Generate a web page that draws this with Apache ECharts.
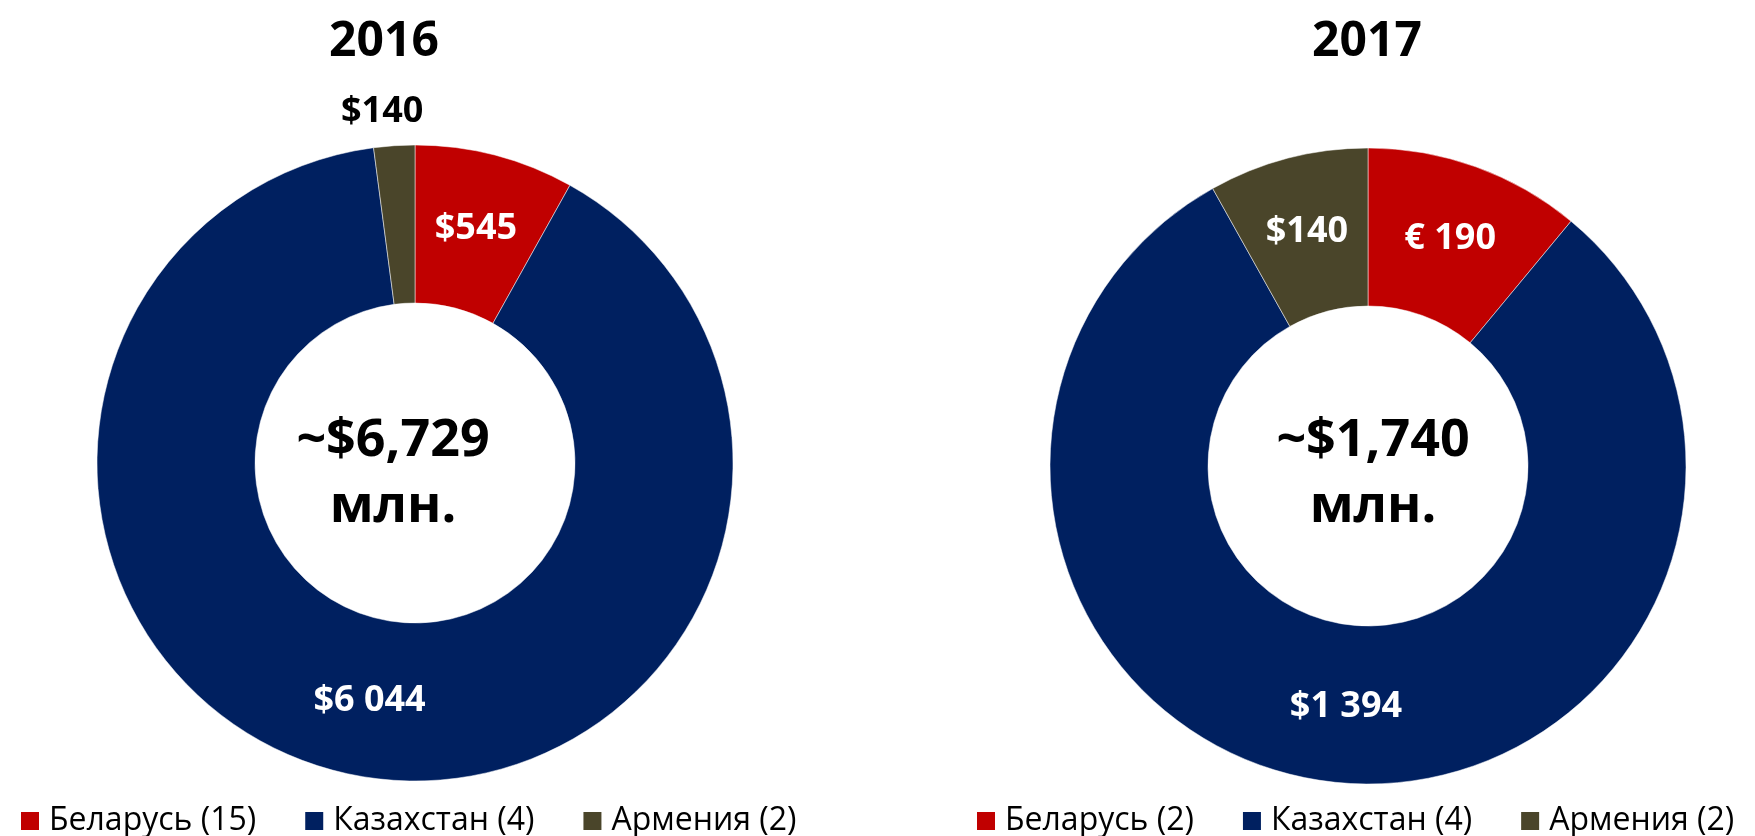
<!DOCTYPE html>
<html>
<head>
<meta charset="utf-8">
<script src="https://cdn.jsdelivr.net/npm/echarts@6/dist/echarts.min.js"></script>
<style>
  html, body { margin: 0; padding: 0; background: #fff; }
  #chart { width: 1755px; height: 836px; }
</style>
</head>
<body>
<div id="chart"></div>
<script>
var colors = ['#C00000', '#002060', '#4A452A'];

var years = ['2016', '2017'];
var totals = ['~$6,729\nмлн.', '~$1,740\nмлн.'];

var names2016 = ['Беларусь (15)', 'Казахстан (4)', 'Армения (2)'];
var values2016 = [545, 6044, 140];
var labels2016 = ['$545', '$6 044', '$140'];

var names2017 = ['Беларусь (2)', 'Казахстан (4)', 'Армения (2)'];
var values2017 = [190, 1394, 140];
var labels2017 = ['€ 190', '$1 394', '$140'];

var font = 'Open Sans';

function buildData(names, values, labels) {
    var list = [];
    for (var i = 0; i < names.length; i++) {
        list.push({ name: names[i], value: values[i], labelText: labels[i] });
    }
    return list;
}

var data2016 = buildData(names2016, values2016, labels2016);
var data2017 = buildData(names2017, values2017, labels2017);
// маленький сектор Армении 2016 - подпись снаружи, чёрная
data2016[2].label = { color: '#000', offset: [-17, -110] };

function pieSeries(data, center) {
    return {
        type: 'pie',
        radius: [160, 318],
        center: center,
        startAngle: 90,
        clockwise: true,
        avoidLabelOverlap: false,
        animation: false,
        silent: true,
        itemStyle: { borderColor: '#ffffff', borderWidth: 0.5 },
        label: {
            show: true,
            position: 'inside',
            color: '#fff',
            fontFamily: font,
            fontWeight: 'bold',
            fontSize: 36,
            formatter: function (p) { return p.data.labelText; }
        },
        labelLine: { show: false },
        emphasis: { disabled: true },
        data: data
    };
}

function legendFor(names, left) {
    return {
        data: names,
        left: left,
        top: 800,
        icon: 'rect',
        itemWidth: 20,
        itemHeight: 20,
        itemGap: 47,
        selectedMode: false,
        textStyle: {
            fontFamily: font,
            fontSize: 32,
            color: '#000',
            padding: [0, 0, 0, 4]
        }
    };
}

var chart = echarts.init(document.getElementById('chart'));
var option = {
    color: colors,
    backgroundColor: '#fff',
    title: [
        { text: years[0], left: 379, top: 8, textAlign: 'center',
          textStyle: { fontFamily: font, fontWeight: 'bold', fontSize: 48, lineHeight: 58, color: '#000' } },
        { text: years[1], left: 1362, top: 8, textAlign: 'center',
          textStyle: { fontFamily: font, fontWeight: 'bold', fontSize: 48, lineHeight: 58, color: '#000' } },
        { text: totals[0], left: 388, top: 403, textAlign: 'center',
          textStyle: { fontFamily: font, fontWeight: 'bold', fontSize: 52, lineHeight: 66, color: '#000' } },
        { text: totals[1], left: 1368, top: 403, textAlign: 'center',
          textStyle: { fontFamily: font, fontWeight: 'bold', fontSize: 52, lineHeight: 66, color: '#000' } }
    ],
    legend: [legendFor(names2016, 14), legendFor(names2017, 970)],
    series: [
        pieSeries(data2016, [415, 463]),
        pieSeries(data2017, [1368, 466])
    ]
};
chart.setOption(option);
</script>
</body>
</html>
